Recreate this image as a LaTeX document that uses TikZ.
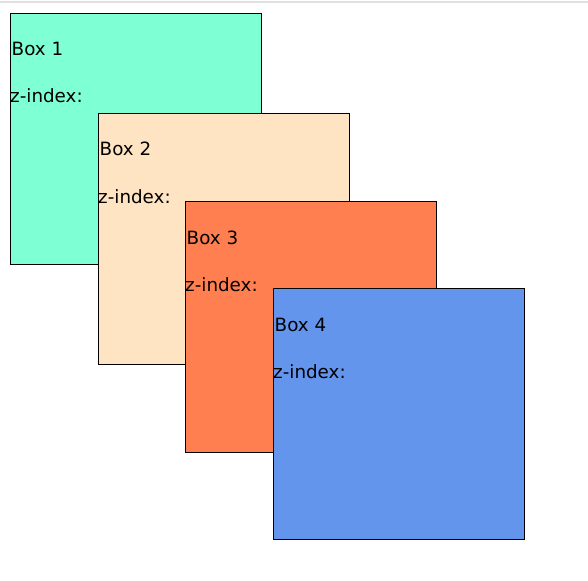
\documentclass[tikz,border=0pt]{standalone}
\usepackage{fontspec}
\setmainfont{DejaVu Sans}
\usetikzlibrary{positioning}
\definecolor{aqua}{HTML}{7FFFD4}
\definecolor{bisq}{HTML}{FFE4C4}
\definecolor{corl}{HTML}{FF7F50}
\definecolor{cblue}{HTML}{6495ED}

\begin{document}
\begin{tikzpicture}[x=1pt, y=-1pt]

      \useasboundingbox (0,0) rectangle (588,580);

      % thin rule at the top
      \draw[black!12, line width=1.5pt] (0,2) -- (588,2);

      \tikzset{
            box/.style = {draw, line width=1pt, rectangle, minimum size=251pt, inner sep=0pt, anchor=north west},
            lbl/.style = {inner sep=0pt, anchor=base west, font=\fontsize{18.3pt}{21pt}\selectfont}
      };

      % the four boxes, each one placed over the one before
      \foreach \i/\x/\y/\col in {1/10/13/aqua, 2/98/113/bisq, 3/185/201/corl, 4/273/288/cblue} {
            \node[box, fill=\col] (box\i) at (\x,\y) {};
            \node[lbl] (title\i) at ([xshift=1.5pt, yshift=-43pt]box\i.north west) {Box \i};
            \node[lbl] (zidx\i) at ([xshift=0pt, yshift=-90pt]box\i.north west) {z-index:};
      }

\end{tikzpicture}
\end{document}
